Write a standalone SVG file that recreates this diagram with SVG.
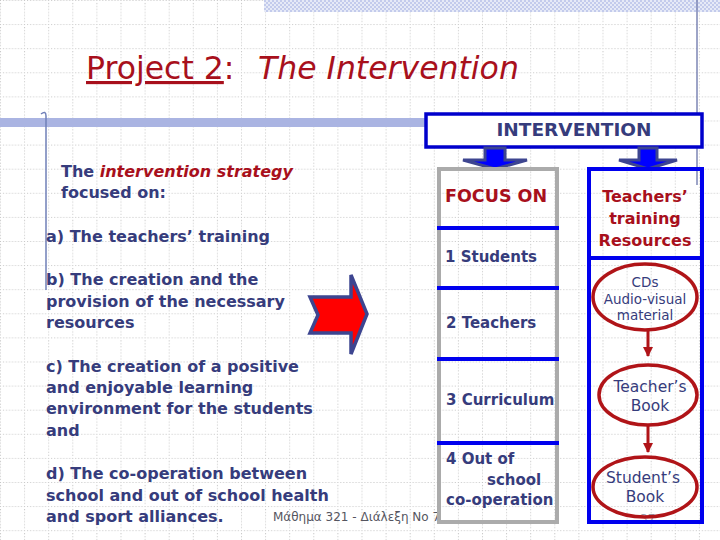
<svg xmlns="http://www.w3.org/2000/svg" width="720" height="540" viewBox="0 0 720 540">
<defs>
  <pattern id="grid" width="24.1" height="24.1" patternUnits="userSpaceOnUse">
    <path d="M0.5,0 V24.1 M0,0.5 H24.1" stroke="#c4c4c4" stroke-width="1" stroke-dasharray="1 2" fill="none"/>
  </pattern>
  <pattern id="check" width="4" height="4" patternUnits="userSpaceOnUse">
    <rect width="4" height="4" fill="#e6eaf7"/>
    <rect width="2" height="2" fill="#c3cbec"/>
    <rect x="2" y="2" width="2" height="2" fill="#c3cbec"/>
  </pattern>
  <marker id="redhead" viewBox="0 0 10 10" refX="9" refY="5" markerWidth="3.4" markerHeight="3.4" orient="auto" markerUnits="strokeWidth">
    <path d="M0,0 L10,5 L0,10 Z" fill="#b01418"/>
  </marker>
  <style>
    .body { font-family: "DejaVu Sans", "Liberation Sans", sans-serif; font-weight: bold; font-size: 16px; fill: #363c7c; }
    .red { fill: #a8101c; }
    .col { font-family: "DejaVu Sans", "Liberation Sans", sans-serif; font-weight: bold; font-size: 15px; fill: #363c7c; }
    .head { font-family: "DejaVu Sans", "Liberation Sans", sans-serif; font-weight: bold; fill: #a8101c; }
    .ell { font-family: "DejaVu Sans", "Liberation Sans", sans-serif; fill: #363c7c; text-anchor: middle; }
    .sep { stroke: #0000ee; stroke-width: 4; }
    .oval { fill: none; stroke: #b01418; stroke-width: 3.5; }
    .darrow { fill: #0000ff; stroke: #3d4590; stroke-width: 3; stroke-linejoin: miter; }
    .conn { stroke: #b01418; stroke-width: 3; fill: none; }
  </style>
</defs>

<rect width="720" height="540" fill="#ffffff"/>
<rect width="720" height="540" fill="url(#grid)"/>

<!-- decoration -->
<rect x="264" y="0" width="456" height="12" fill="url(#check)"/>
<line x1="697" y1="0" x2="697" y2="185" stroke="#7d86b5" stroke-width="1.5"/>
<rect x="0" y="118" width="430" height="9" fill="#aab4e2"/>
<path d="M46,290 V116 Q46,110 41,114" fill="none" stroke="#7080b8" stroke-width="1.5"/>

<!-- title -->
<text x="86" y="79" font-family="DejaVu Sans, Liberation Sans, sans-serif" font-size="31.5" fill="#a8101c"><tspan text-decoration="underline">Project 2</tspan>:<tspan x="258" font-style="italic">The Intervention</tspan></text>

<!-- left text -->
<g id="left-text">
  <text class="body" x="61" y="177">The <tspan class="red" font-style="italic">intervention strategy</tspan></text>
  <text class="body" x="61" y="198">focused on:</text>
  <text class="body" x="46" y="242">a) The teachers’ training</text>
  <text class="body" x="46" y="285">b) The creation and the</text>
  <text class="body" x="46" y="307">provision of the necessary</text>
  <text class="body" x="46" y="328">resources</text>
  <text class="body" x="46" y="372">c) The creation of a positive</text>
  <text class="body" x="46" y="393">and enjoyable learning</text>
  <text class="body" x="46" y="414">environment for the students</text>
  <text class="body" x="46" y="436">and</text>
  <text class="body" x="46" y="479">d) The co-operation between</text>
  <text class="body" x="46" y="501">school and out of school health</text>
  <text class="body" x="46" y="522">and sport alliances.</text>
</g>

<!-- footer -->
<text x="273" y="521" font-family="DejaVu Sans, Liberation Sans, sans-serif" font-size="12" fill="#555560">Μάθημα 321 - Διάλεξη Νο 7</text>
<text x="640" y="523" font-family="DejaVu Sans, Liberation Sans, sans-serif" font-size="12" fill="#9a9aa8">37</text>

<!-- big red arrow -->
<g id="red-arrow">
  <polygon points="310,297 351,297 351,275 367,314 351,354 351,333 310,333 318,315" fill="#ff0000" stroke="#3d4590" stroke-width="3.5" stroke-linejoin="miter"/>
</g>

<!-- INTERVENTION -->
<g id="intervention">
  <rect x="426" y="114" width="276" height="33" fill="#ffffff" stroke="#0000cc" stroke-width="3.5"/>
  <text x="574" y="136" font-family="DejaVu Sans, Liberation Sans, sans-serif" font-weight="bold" font-size="18.5" fill="#363c7c" text-anchor="middle">INTERVENTION</text>
</g>

<!-- connectors -->
<g id="connectors">
  <polygon class="darrow" points="485,148 505,148 505,160 527,160 495,169 463,160 485,160"/>
  <polygon class="darrow" points="639,148 657,148 657,160 677,160 648,169 619,160 639,160"/>
  <line class="conn" x1="648" y1="331" x2="648" y2="356" marker-end="url(#redhead)"/>
  <line class="conn" x1="648" y1="426" x2="648" y2="452" marker-end="url(#redhead)"/>
</g>

<!-- focus column -->
<g id="focus-on">
  <rect x="439" y="169" width="118" height="353" fill="none" stroke="#ababab" stroke-width="4"/>
  <line class="sep" x1="437" y1="228" x2="559" y2="228"/>
  <line class="sep" x1="437" y1="288" x2="559" y2="288"/>
  <line class="sep" x1="437" y1="359" x2="559" y2="359"/>
  <line class="sep" x1="437" y1="443" x2="559" y2="443"/>
  <text class="head" x="445" y="202" font-size="17.5">FOCUS ON</text>
  <text class="col" x="445" y="262">1 Students</text>
  <text class="col" x="446" y="328">2 Teachers</text>
  <text class="col" x="446" y="405">3 Curriculum</text>
  <text class="col" x="446" y="464">4 Out of</text>
  <text class="col" x="487" y="485">school</text>
  <text class="col" x="446" y="505">co-operation</text>
</g>

<!-- resources column -->
<g id="resources">
  <rect x="589" y="169" width="113" height="353" fill="none" stroke="#0000ee" stroke-width="4"/>
  <line class="sep" x1="587" y1="258" x2="704" y2="258"/>
  <text class="head" x="645" y="202" font-size="16" text-anchor="middle">Teachers’</text>
  <text class="head" x="645" y="224" font-size="16" text-anchor="middle">training</text>
  <text class="head" x="645" y="246" font-size="16" text-anchor="middle">Resources</text>
</g>

<g id="cds">
  <ellipse class="oval" cx="645" cy="297" rx="52" ry="33"/>
  <text class="ell" x="645" y="287" font-size="13.5">CDs</text>
  <text class="ell" x="645" y="304" font-size="13.5">Audio-visual</text>
  <text class="ell" x="645" y="320" font-size="13.5">material</text>
</g>

<g id="teachers-book">
  <ellipse class="oval" cx="648" cy="395" rx="49" ry="30"/>
  <text class="ell" x="650" y="392" font-size="15.5">Teacher’s</text>
  <text class="ell" x="650" y="411" font-size="15.5">Book</text>
</g>

<g id="students-book">
  <ellipse class="oval" cx="645" cy="487" rx="52" ry="30"/>
  <text class="ell" x="643" y="483" font-size="15.5">Student’s</text>
  <text class="ell" x="645" y="502" font-size="15.5">Book</text>
</g>
</svg>
